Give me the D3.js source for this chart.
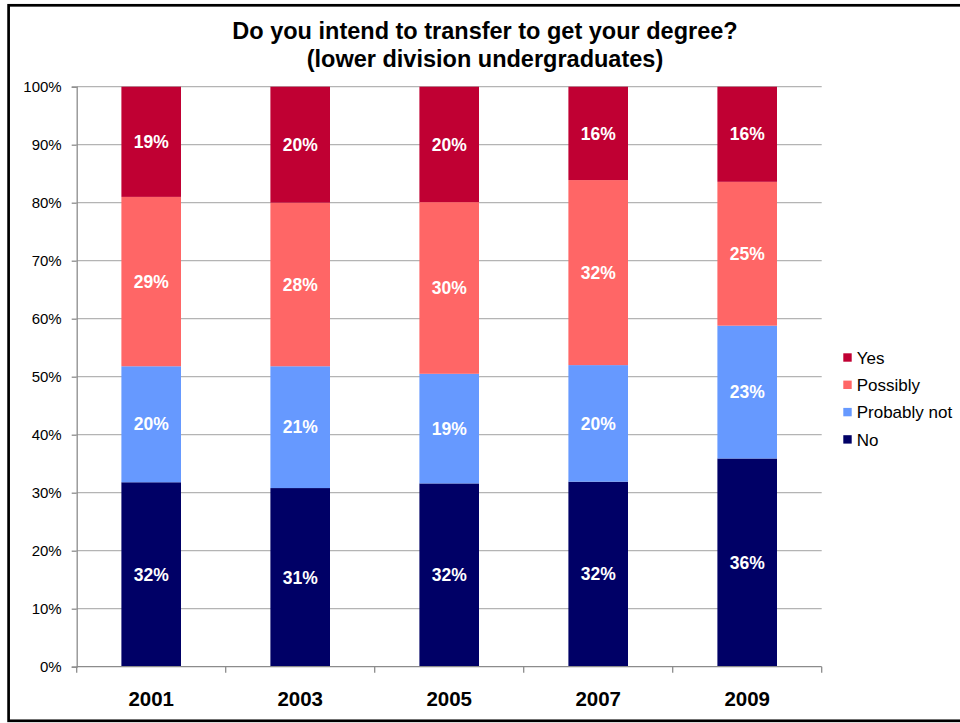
<!DOCTYPE html>
<head>
  <meta charset="UTF-8">
  <script src="https://d3js.org/d3.v7.min.js"></script>
</head>
<body style="margin:0;background:#fff">
  <div id="chartContainer">
    <svg id="chartSVG"></svg>
  </div>
</body>
<style>
  #chartSVG text { font-family: 'Liberation Sans', Arial, sans-serif; }
</style>
<script type="text/javascript">
  // values (percent of respondents)
  const years = ['2001','2003','2005','2007','2009'];
  const seriesNames = ['No','Probably not','Possibly','Yes'];
  const no          = [31.8, 30.8, 31.6, 31.9, 35.9];
  const probablyNot = [20.0, 21.0, 18.9, 20.1, 22.9];
  const possibly    = [29.2, 28.2, 29.6, 31.9, 24.8];
  const yes         = [19.0, 20.0, 19.9, 16.1, 16.4];
  const yTicks = [0,10,20,30,40,50,60,70,80,90,100];

  const colors = {'No':'#000066','Probably not':'#6699FF','Possibly':'#FF6666','Yes':'#C00033'};

  const width=960, height=723;
  const plot={left: 76.7, right: 821.7, top: 86.7, bottom: 666.7};

  const svg=d3.select('#chartSVG')
    .attr('width',width)
    .attr('height',height);

  // outer frame
  svg.append('rect')
    .attr('x',8.6).attr('y',5.3)
    .attr('width',960).attr('height',715.5)
    .attr('fill','none')
    .attr('stroke','#000')
    .attr('stroke-width',2.7);

  const table=years.map((y,i) => ({
    year: y,
    'No': no[i],
    'Probably not': probablyNot[i],
    'Possibly': possibly[i],
    'Yes': yes[i]
  }));

  const stacked=d3.stack().keys(seriesNames)(table);

  const x=d3.scaleBand()
    .domain(years)
    .range([plot.left,plot.right])
    .paddingInner(0.6)
    .paddingOuter(0.3);

  const y=d3.scaleLinear()
    .domain([0,100])
    .range([plot.bottom,plot.top]);

  // gridlines
  svg.append('g')
    .selectAll('line')
    .data(yTicks.filter(d => d > 0))
    .join('line')
    .attr('x1',plot.left).attr('x2',plot.right)
    .attr('y1',d => y(d)).attr('y2',d => y(d))
    .attr('stroke','#b4b4b4')
    .attr('stroke-width',1.3);

  // y axis
  const yAxis=svg.append('g')
    .attr('transform',`translate(${plot.left},0)`)
    .call(d3.axisLeft(y).tickValues(yTicks).tickFormat(d => d+'%').tickSize(5).tickPadding(10));
  yAxis.select('.domain').attr('stroke','#8c8c8c').attr('stroke-width',1.3);
  yAxis.selectAll('.tick line').attr('stroke','#8c8c8c').attr('stroke-width',1.3);
  yAxis.selectAll('text')
    .attr('font-size','15px')
    .attr('fill','#000')
    .style('font-family',"'Liberation Sans', Arial, sans-serif");

  // bars
  const layers=svg.append('g')
    .selectAll('g')
    .data(stacked)
    .join('g')
    .attr('fill',d => colors[d.key]);

  layers.selectAll('rect')
    .data(d => d)
    .join('rect')
    .attr('x',d => x(d.data.year))
    .attr('width',x.bandwidth())
    .attr('y',d => y(d[1]))
    .attr('height',d => y(d[0]) - y(d[1]));

  // value labels
  layers.selectAll('text')
    .data(d => d.map(v => ({v, key: d.key})))
    .join('text')
    .attr('x',d => x(d.v.data.year)+x.bandwidth()/2)
    .attr('y',d => (y(d.v[0])+y(d.v[1]))/2)
    .attr('dy','0.35em')
    .attr('text-anchor','middle')
    .attr('fill','#fff')
    .attr('font-weight','bold')
    .attr('font-size','17.5px')
    .text(d => Math.round(d.v.data[d.key])+'%');

  // x axis
  const boundaries=d3.range(years.length+1).map(i => plot.left+i*x.step());
  svg.append('line')
    .attr('x1',plot.left).attr('x2',plot.right)
    .attr('y1',plot.bottom).attr('y2',plot.bottom)
    .attr('stroke','#8c8c8c').attr('stroke-width',1.3);
  svg.append('g')
    .selectAll('line')
    .data(boundaries)
    .join('line')
    .attr('x1',d => d).attr('x2',d => d)
    .attr('y1',plot.bottom).attr('y2',plot.bottom+6)
    .attr('stroke','#8c8c8c').attr('stroke-width',1.3);
  svg.append('g')
    .selectAll('text')
    .data(years)
    .join('text')
    .attr('x',d => x(d)+x.bandwidth()/2)
    .attr('y',706)
    .attr('text-anchor','middle')
    .attr('font-weight','bold')
    .attr('font-size','20.5px')
    .text(d => d);

  // title
  const title=svg.append('text')
    .attr('text-anchor','middle')
    .attr('font-weight','bold')
    .attr('font-size','23.5px');
  title.append('tspan').attr('x',485).attr('y',39).text('Do you intend to transfer to get your degree?');
  title.append('tspan').attr('x',485).attr('y',66.5).text('(lower division undergraduates)');

  // legend (top to bottom: Yes, Possibly, Probably not, No)
  const legendOrder=seriesNames.slice().reverse();
  const legend=svg.append('g')
    .selectAll('g')
    .data(legendOrder)
    .join('g')
    .attr('transform',(d,i) => `translate(843.3,${357.5+i*27.3})`);
  legend.append('rect')
    .attr('x',0).attr('y',-4.2)
    .attr('width',8.4).attr('height',8.4)
    .attr('fill',d => colors[d]);
  legend.append('text')
    .attr('x',13.4)
    .attr('y',0)
    .attr('dy','0.36em')
    .attr('font-size','17px')
    .text(d => d);
</script>
